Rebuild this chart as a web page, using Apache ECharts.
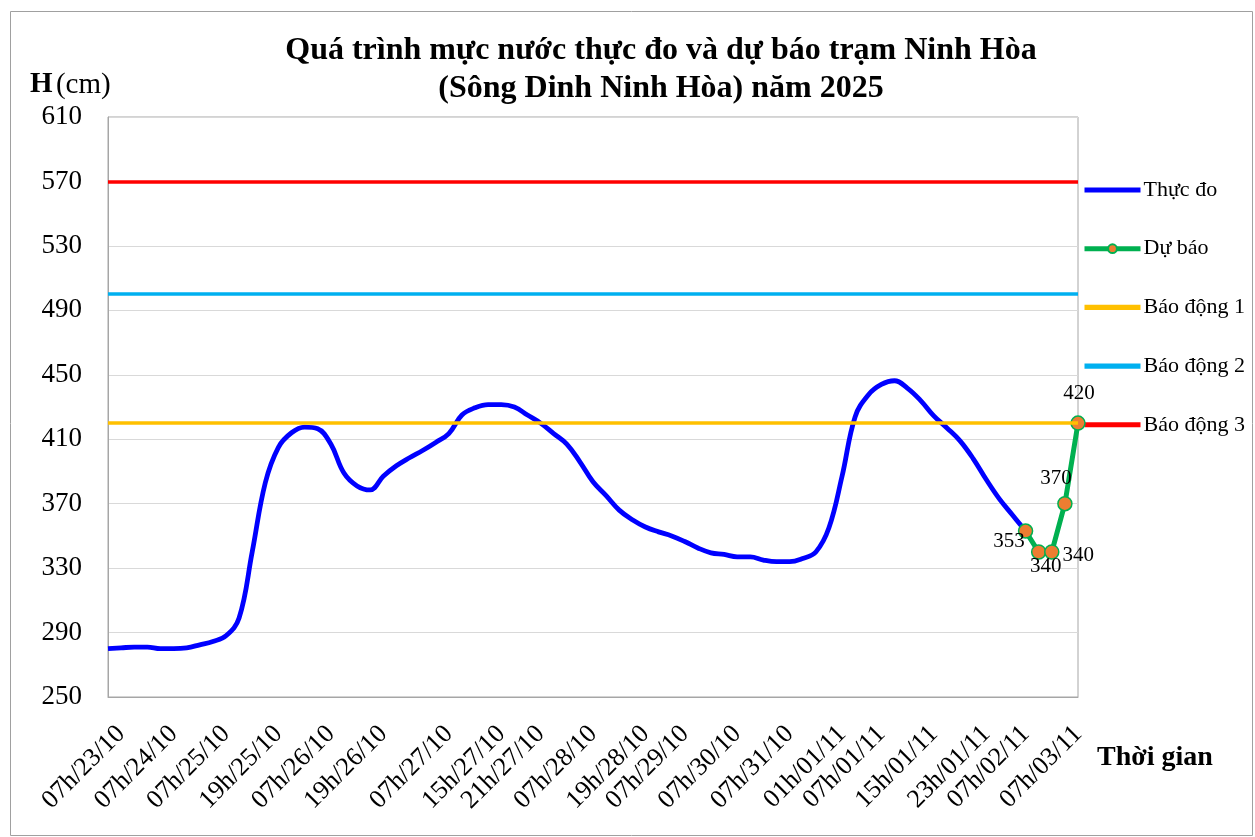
<!DOCTYPE html>
<html>
<head>
<meta charset="utf-8">
<script src="https://cdn.jsdelivr.net/npm/echarts@6/dist/echarts.min.js"></script>
<style>
html,body{margin:0;padding:0;background:#fff;}
#c{width:1255px;height:837px;}
</style>
</head>
<body>
<div id="c"></div>
<script>
// ---- data ----
const CATEGORIES = [
 '01h/23/10','07h/23/10','13h/23/10','19h/23/10','01h/24/10','07h/24/10','13h/24/10','19h/24/10','01h/25/10','07h/25/10',
 '10h/25/10','13h/25/10','16h/25/10','19h/25/10','22h/25/10','01h/26/10','04h/26/10','07h/26/10','10h/26/10','13h/26/10',
 '16h/26/10','19h/26/10','22h/26/10','01h/27/10','03h/27/10','05h/27/10','07h/27/10','09h/27/10','11h/27/10','13h/27/10',
 '15h/27/10','17h/27/10','19h/27/10','21h/27/10','23h/27/10','01h/28/10','04h/28/10','07h/28/10','10h/28/10','13h/28/10',
 '16h/28/10','19h/28/10','23h/28/10','03h/29/10','07h/29/10','13h/29/10','19h/29/10','01h/30/10','07h/30/10','13h/30/10',
 '19h/30/10','01h/31/10','07h/31/10','13h/31/10','19h/31/10','22h/31/10','01h/01/11','03h/01/11','05h/01/11','07h/01/11',
 '09h/01/11','11h/01/11','13h/01/11','15h/01/11','17h/01/11','19h/01/11','21h/01/11','23h/01/11','01h/02/11','04h/02/11',
 '07h/02/11','13h/02/11','19h/02/11','01h/03/11','07h/03/11'
];
const TICK_LABELS = ['07h/23/10','07h/24/10','07h/25/10','19h/25/10','07h/26/10','19h/26/10','07h/27/10','15h/27/10',
 '21h/27/10','07h/28/10','19h/28/10','07h/29/10','07h/30/10','07h/31/10','01h/01/11','07h/01/11','15h/01/11',
 '23h/01/11','07h/02/11','07h/03/11'];
const OBSERVED = [
 280,280.5,281,281,280,280,280.5,282.4,284.5,288,
 299,340,383,405,414,417.5,416.5,407,389,381,
 378.5,387,393.5,398.5,403,408,413.5,425,429.5,431.5,
 431.5,430,425,420,413.5,407,396,383.6,375,366,
 360,355.5,352.5,350,346.5,342.5,339.5,338.5,337,337,
 335,334,334,336,340,355,387,424,437.5,444,
 446.3,441.6,434,424.5,417,409,398,385,373,363,
 353
];
const FORECAST_TIMES = ['07h/02/11','13h/02/11','19h/02/11','01h/03/11','07h/03/11'];
const FORECAST = [353,340,340,370,420];
const ALARM_NAMES = ['Báo động 1','Báo động 2','Báo động 3'];
const ALARM_LEVELS = [420,500,570];
const Y_MIN = 250, Y_MAX = 610, Y_STEP = 40;

// ---- styles ----
const FONT = "'Liberation Serif','Times New Roman',serif";
const ALARM_COLORS = ['#FFC000','#00B0F0','#FF0000'];
const FC_LABEL_POS = [
  {position:'left', offset:[12,10]},
  {position:'bottom', offset:[7,-9]},
  {position:'right', offset:[-2,3]},
  {position:'top', offset:[-9,-2]},
  {position:'top', offset:[1,-6]}
];
const BAR_ICON = 'path://M0,0H55V5H0Z';

const chart = echarts.init(document.getElementById('c'), null, {renderer:'canvas'});
const series = [
  {
    name:'Thực đo', type:'line', data:OBSERVED, smooth:0.4, symbol:'none',
    lineStyle:{color:'#0000FF', width:4.8}, itemStyle:{color:'#0000FF'}, z:2
  },
  {
    name:'Dự báo', type:'line', smooth:false, symbol:'circle', symbolSize:14, showAllSymbol:true,
    data: FORECAST.map((v,i)=>({
      value:[FORECAST_TIMES[i], v],
      label:{show:true, position:FC_LABEL_POS[i].position, offset:FC_LABEL_POS[i].offset,
             formatter:String(v), fontFamily:FONT, fontSize:21, color:'#000'}
    })),
    lineStyle:{color:'#00B050', width:5},
    itemStyle:{color:'#ED7D31', borderColor:'#00B050', borderWidth:1.5}, z:4
  }
];
ALARM_NAMES.forEach((n,i)=>{
  series.push({
    name:n, type:'line', data:[], symbol:'none',
    lineStyle:{color:ALARM_COLORS[i], width:3.5}, itemStyle:{color:ALARM_COLORS[i]},
    markLine:{silent:true, symbol:'none', label:{show:false},
      lineStyle:{color:ALARM_COLORS[i], width:3.5, type:'solid'},
      data:[{yAxis:ALARM_LEVELS[i]}]}, z:3
  });
});

const option = {
  backgroundColor:'#fff',
  animation:false,
  grid:{left:108, right:177, top:117, bottom:140, show:true, borderColor:'#A6A6A6', borderWidth:1},
  legend:{
    orient:'vertical', left:1077, top:174, itemWidth:56, itemHeight:11, itemGap:36.7,
    data:[
      {name:'Thực đo', icon:BAR_ICON},
      {name:'Dự báo', lineStyle:{width:5}},
      {name:'Báo động 1', icon:BAR_ICON},
      {name:'Báo động 2', icon:BAR_ICON},
      {name:'Báo động 3', icon:BAR_ICON}
    ],
    textStyle:{fontFamily:FONT, fontSize:22, color:'#000', lineHeight:22, padding:[0,0,0,-2]}
  },
  xAxis:{
    type:'category', data:CATEGORIES, boundaryGap:false,
    axisLine:{show:true, lineStyle:{color:'#A6A6A6'}},
    axisTick:{show:false},
    splitLine:{show:false},
    axisLabel:{
      rotate:45, margin:33, fontFamily:FONT, fontSize:26, color:'#000',
      interval:(idx, val)=>TICK_LABELS.indexOf(val) >= 0
    }
  },
  yAxis:{
    type:'value', min:Y_MIN, max:Y_MAX, interval:Y_STEP,
    axisLine:{show:true, lineStyle:{color:'#A6A6A6'}},
    axisTick:{show:false},
    splitLine:{show:true, lineStyle:{color:'#D9D9D9', width:1}},
    axisLabel:{margin:26, fontFamily:FONT, fontSize:27, color:'#000'}
  },
  graphic:[
    {type:'rect', left:8, top:9, shape:{width:1242, height:824}, style:{fill:null, stroke:'#A0A0A0', lineWidth:1}, silent:true, z:-1},
    {type:'text', x:661, y:51, style:{text:'Quá trình mực nước thực đo và dự báo trạm Ninh Hòa', font:"bold 32px "+FONT, fill:'#000', textAlign:'center', textVerticalAlign:'middle'}},
    {type:'text', x:661, y:89, style:{text:'(Sông Dinh Ninh Hòa) năm 2025', font:"bold 32px "+FONT, fill:'#000', textAlign:'center', textVerticalAlign:'middle'}},
    {type:'text', x:30, y:85, style:{
      rich:{b:{fontFamily:FONT, fontSize:29, fontWeight:'bold', fill:'#000'}, n:{fontFamily:FONT, fontSize:29, fill:'#000'}},
      text:'{b|H} {n|(cm)}', textVerticalAlign:'middle'}},
    {type:'text', x:1097, y:758, style:{text:'Thời gian', font:"bold 28px "+FONT, fill:'#000', textVerticalAlign:'middle'}}
  ],
  series:series
};
chart.setOption(option);
</script>
</body>
</html>
